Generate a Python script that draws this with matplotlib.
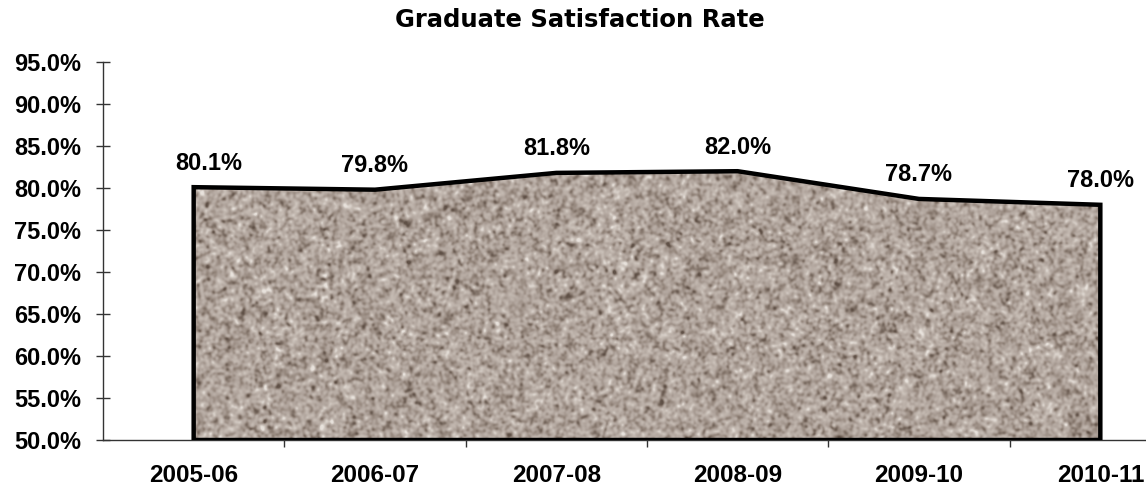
import numpy as np
import matplotlib
matplotlib.use("Agg")
import matplotlib.pyplot as plt
from matplotlib.colors import LinearSegmentedColormap
from matplotlib.ticker import FixedLocator, FuncFormatter

plt.rcParams['font.family'] = ['Liberation Sans', 'DejaVu Sans']

# ---- data ----
title = "Graduate Satisfaction Rate"
categories = ["2005-06", "2006-07", "2007-08", "2008-09", "2009-10", "2010-11"]
rates = [80.1, 79.8, 81.8, 82.0, 78.7, 78.0]
y_ticks = [50, 55, 60, 65, 70, 75, 80, 85, 90, 95]

W, H = 1146, 488
fig = plt.figure(figsize=(W / 100, H / 100), dpi=100)
ax = fig.add_axes([103 / W, 1 - 440 / H, 1088 / W, 378 / H])

x = np.arange(len(categories))
ax.set_xlim(-0.5, len(categories) - 0.5)
ax.set_ylim(50, 95)

# area with outline
poly = ax.fill_between(x, 50, rates, facecolor='none', edgecolor='black',
                       linewidth=3.2, joinstyle='miter', zorder=3)

# granite texture clipped to area
rng = np.random.default_rng(7)
th, tw = 300, 920
def gblur(a, s):
    fy = np.fft.fftfreq(a.shape[0])[:, None]
    fx = np.fft.fftfreq(a.shape[1])[None, :]
    k = np.exp(-2 * (np.pi * s) ** 2 * (fx ** 2 + fy ** 2))
    return np.real(np.fft.ifft2(np.fft.fft2(a) * k))
fine = gblur(rng.standard_normal((th, tw)), 1.4)
coarse = gblur(rng.standard_normal((th, tw)), 4.0)
fine = (fine - fine.mean()) / fine.std()
coarse = (coarse - coarse.mean()) / coarse.std()
tex = fine + 0.2 * coarse
tex = (tex - tex.mean()) / tex.std()
cmap = LinearSegmentedColormap.from_list(
    'granite', [(0.0, (95/255, 80/255, 70/255)),
                (0.3, (150/255, 136/255, 126/255)),
                (0.5, (176/255, 164/255, 156/255)),
                (0.75, (198/255, 188/255, 180/255)),
                (1.0, (232/255, 226/255, 220/255))])
im = ax.imshow(tex, cmap=cmap, vmin=-3.2, vmax=3.2, extent=(0, 5, 50, 86),
               aspect='auto', interpolation='bilinear', zorder=2)
im.set_clip_path(poly.get_paths()[0], transform=ax.transData)

# data labels
for i, v in enumerate(rates):
    dx = 11 if i == 0 else 0
    ax.annotate(f"{v:.1f}%", (x[i], v), xytext=(dx, 9), textcoords='offset points',
                ha='center', va='bottom', fontsize=17, fontweight='bold', zorder=5)

# axes styling
for s in ['top', 'right']:
    ax.spines[s].set_visible(False)
for s in ['left', 'bottom']:
    ax.spines[s].set_color('#333333')
    ax.spines[s].set_linewidth(1.0)

ax.yaxis.set_major_locator(FixedLocator(y_ticks))
ax.yaxis.set_major_formatter(FuncFormatter(lambda v, p: f"{v:.1f}%"))
ax.tick_params(axis='y', direction='inout', length=10, width=1, color='#333333',
               labelsize=17, pad=11)
for lab in ax.get_yticklabels():
    lab.set_fontweight('bold')

ax.xaxis.set_major_locator(FixedLocator(np.arange(0.5, len(categories), 1.0)))
ax.xaxis.set_major_formatter(FuncFormatter(lambda v, p: ""))
ax.xaxis.set_minor_locator(FixedLocator(x))
ax.xaxis.set_minor_formatter(FuncFormatter(lambda v, p: categories[int(round(v))]))
ax.tick_params(axis='x', which='major', direction='inout', length=10, width=1, color='#333333')
ax.tick_params(axis='x', which='minor', length=0, labelsize=17.5, pad=17)
for lab in ax.get_xticklabels(minor=True):
    lab.set_fontweight('bold')

fig.text(579.5 / W, 1 - 27 / H, title, ha='center', va='baseline',
         fontsize=17.5, fontweight='bold', family=['DejaVu Sans'])

fig.savefig("out.png", dpi=100)
